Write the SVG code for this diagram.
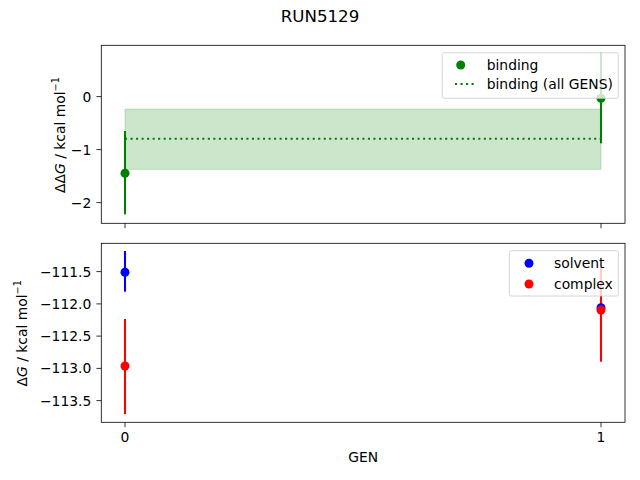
<svg xmlns="http://www.w3.org/2000/svg" width="640" height="480" viewBox="0 0 640 480">
<style>
text{font-family:"DejaVu Sans","Liberation Sans",sans-serif;fill:#000}
.tick{font-size:13.89px}
.tl{font-size:13.89px;text-anchor:end}
.spine{fill:none;stroke:#000;stroke-width:0.8}
.tm{stroke:#000;stroke-width:0.8}
.eb{stroke-width:2.08;fill:none}
.leg{fill:#fff;fill-opacity:0.8;stroke:#cccccc;stroke-width:0.8}
</style>
<rect width="640" height="480" fill="#fff"/>
<text x="320" y="22" font-size="16.67" text-anchor="middle">RUN5129</text>

<g id="top-axes">
  <rect x="125" y="109" width="476" height="60.3" fill="#008000" fill-opacity="0.2" stroke="#008000" stroke-opacity="0.2" stroke-width="1"/>
  <line x1="125" y1="138.7" x2="601" y2="138.7" stroke="#008000" stroke-width="2.08" stroke-dasharray="2.08 3.44"/>
  <g id="connectors-top">
    <line class="eb" x1="125" y1="131" x2="125" y2="214.3" stroke="#008000"/>
    <line class="eb" x1="601" y1="52.7" x2="601" y2="143.3" stroke="#008000"/>
  </g>
  <circle cx="125" cy="173.3" r="4.5" fill="#008000"/>
  <circle cx="601" cy="98.3" r="4.5" fill="#008000"/>
  <rect class="spine" x="101.3" y="45.3" width="523.7" height="178"/>
  <line class="tm" x1="125" y1="223.3" x2="125" y2="228.2"/>
  <line class="tm" x1="601" y1="223.3" x2="601" y2="228.2"/>
  <line class="tm" x1="96.4" y1="96.6" x2="101.3" y2="96.6"/>
  <line class="tm" x1="96.4" y1="149.6" x2="101.3" y2="149.6"/>
  <line class="tm" x1="96.4" y1="202.6" x2="101.3" y2="202.6"/>
  <text class="tl" x="91.3" y="101.6">0</text>
  <text class="tl" x="91.3" y="154.6">−1</text>
  <text class="tl" x="91.3" y="207.6">−2</text>
  <text class="tick" transform="translate(64.5,135) rotate(-90)" text-anchor="middle">ΔΔ<tspan font-style="italic">G</tspan> / kcal mol<tspan dy="-5.5" font-size="9.7">−1</tspan></text>
  <g id="legend-top">
    <rect class="leg" x="442.3" y="52.7" width="176" height="45.6" rx="2"/>
    <circle cx="460.7" cy="65" r="4.5" fill="#008000"/>
    <line x1="455" y1="84" x2="476" y2="84" stroke="#008000" stroke-width="2.08" stroke-dasharray="2.08 3.44"/>
    <text class="tick" x="486.7" y="70">binding</text>
    <text class="tick" x="486.7" y="89">binding (all GENS)</text>
  </g>
</g>

<g id="bottom-axes">
  <g id="connectors-bottom">
    <line class="eb" x1="125" y1="251" x2="125" y2="291.7" stroke="#0000ff"/>
    <line class="eb" x1="601" y1="300" x2="601" y2="315" stroke="#0000ff"/>
    <line class="eb" x1="125" y1="319" x2="125" y2="414" stroke="#ff0000"/>
    <line class="eb" x1="601" y1="266.7" x2="601" y2="361.7" stroke="#ff0000"/>
  </g>
  <circle cx="125" cy="272.3" r="4.5" fill="#0000ff"/>
  <circle cx="601" cy="307.7" r="4.5" fill="#0000ff"/>
  <circle cx="125" cy="366" r="4.5" fill="#ff0000"/>
  <circle cx="601" cy="310" r="4.5" fill="#ff0000"/>
  <rect class="spine" x="101.3" y="243.3" width="523.7" height="179"/>
  <line class="tm" x1="125" y1="422.3" x2="125" y2="427.2"/>
  <line class="tm" x1="601" y1="422.3" x2="601" y2="427.2"/>
  <line class="tm" x1="96.4" y1="271.6" x2="101.3" y2="271.6"/>
  <line class="tm" x1="96.4" y1="303.9" x2="101.3" y2="303.9"/>
  <line class="tm" x1="96.4" y1="336.1" x2="101.3" y2="336.1"/>
  <line class="tm" x1="96.4" y1="368.4" x2="101.3" y2="368.4"/>
  <line class="tm" x1="96.4" y1="400.6" x2="101.3" y2="400.6"/>
  <text class="tl" x="91.3" y="276.6">−111.5</text>
  <text class="tl" x="91.3" y="308.9">−112.0</text>
  <text class="tl" x="91.3" y="341.1">−112.5</text>
  <text class="tl" x="91.3" y="373.4">−113.0</text>
  <text class="tl" x="91.3" y="405.6">−113.5</text>
  <text class="tick" x="125" y="442" text-anchor="middle">0</text>
  <text class="tick" x="601" y="442" text-anchor="middle">1</text>
  <text class="tick" x="363.2" y="462.3" text-anchor="middle">GEN</text>
  <text class="tick" transform="translate(26.7,333.3) rotate(-90)" text-anchor="middle">Δ<tspan font-style="italic">G</tspan> / kcal mol<tspan dy="-5.5" font-size="9.7">−1</tspan></text>
  <g id="legend-bottom">
    <rect class="leg" x="509.3" y="250.7" width="109" height="45.3" rx="2"/>
    <circle cx="529" cy="263.3" r="4.5" fill="#0000ff"/>
    <circle cx="529" cy="284" r="4.5" fill="#ff0000"/>
    <text class="tick" x="554" y="268">solvent</text>
    <text class="tick" x="554" y="288.5">complex</text>
  </g>
</g>
</svg>
